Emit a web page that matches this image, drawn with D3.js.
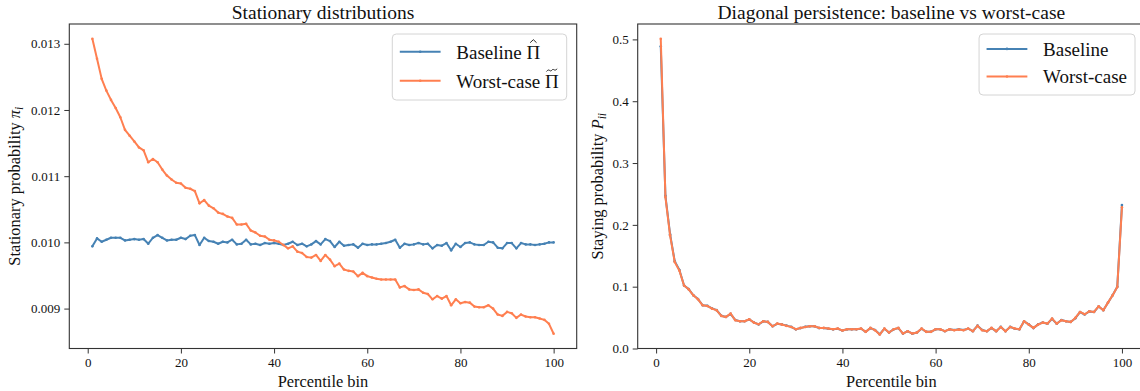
<!DOCTYPE html>
<html>
<head>
<meta charset="utf-8">
<script src="https://cdn.jsdelivr.net/npm/d3@7"></script>
<style>
  body { margin: 0; background: #fff; }
  text { font-family: "Liberation Serif", "Times New Roman", serif; fill: #111; }
</style>
</head>
<body>
<script>
// percentile bins 1..100
var bins = d3.range(1, 101);

var baselinePi = [
  0.00994, 0.01006, 0.01001, 0.01004, 0.01007, 0.01007, 0.01007, 0.01003, 0.01004, 0.01005,
  0.01004, 0.01005, 0.00998, 0.01007, 0.01011, 0.01007, 0.01003, 0.01004, 0.01004, 0.01007,
  0.01005, 0.01010, 0.01011, 0.00996, 0.01007, 0.01002, 0.01001, 0.00998, 0.01001, 0.01000,
  0.01004, 0.00997, 0.00998, 0.01004, 0.00997, 0.00998, 0.00996, 0.00999, 0.00998, 0.00999,
  0.00998, 0.00996, 0.00998, 0.01001, 0.00996, 0.00998, 0.00994, 0.00997, 0.01002, 0.00997,
  0.01005, 0.01002, 0.00993, 0.01001, 0.00995, 0.00996, 0.00997, 0.00992, 0.00998, 0.00996,
  0.00997, 0.00997, 0.00998, 0.00999, 0.01001, 0.01004, 0.00992, 0.00998, 0.00996, 0.00997,
  0.00999, 0.00997, 0.00998, 0.00991, 0.00996, 0.00995, 0.00999, 0.00988, 0.00998, 0.00993,
  0.00999, 0.01000, 0.00997, 0.00996, 0.00996, 0.01001, 0.01000, 0.00992, 0.00991, 0.00999,
  0.00999, 0.00991, 0.00999, 0.00997, 0.00997, 0.00996, 0.00997, 0.00998, 0.01000, 0.01000
];

var worstPi = [
  0.013076, 0.012773, 0.01247, 0.012293, 0.012152, 0.01203, 0.01189, 0.0117, 0.011611, 0.011525,
  0.011434, 0.01139, 0.01121, 0.01126, 0.01121, 0.0111, 0.01101, 0.01095, 0.0109, 0.01089,
  0.010825, 0.01081, 0.010775, 0.01059, 0.01064, 0.010555, 0.010515, 0.01045, 0.01043, 0.01039,
  0.01037, 0.01027, 0.01027, 0.01028, 0.01018, 0.01015, 0.0101, 0.01009, 0.01004, 0.01003,
  0.01001, 0.00996, 0.00991, 0.00994, 0.00986, 0.00984, 0.00978, 0.00977, 0.00981, 0.00972,
  0.00981, 0.00974, 0.00964, 0.00968, 0.00959, 0.00957, 0.00956, 0.00949, 0.00954, 0.00949,
  0.00947, 0.00945, 0.00944, 0.00944, 0.00944, 0.00944, 0.00932, 0.00934, 0.00929, 0.00928,
  0.00929, 0.00924, 0.00922, 0.00914, 0.00919, 0.00915, 0.00919, 0.00905, 0.00914, 0.00908,
  0.0091, 0.00909, 0.00903, 0.00902, 0.00902, 0.00905, 0.009, 0.00891, 0.00889, 0.00895,
  0.00893, 0.00886, 0.00891, 0.00888, 0.00887, 0.00887, 0.00885, 0.00883, 0.00877, 0.00862
];

var baselineStay = [
  0.489, 0.247, 0.185, 0.141, 0.127, 0.102, 0.096, 0.086, 0.080, 0.070,
  0.069, 0.065, 0.062, 0.053, 0.051, 0.056, 0.046, 0.044, 0.044, 0.047,
  0.042, 0.039, 0.044, 0.043, 0.036, 0.040, 0.039, 0.037, 0.035, 0.031,
  0.033, 0.035, 0.036, 0.036, 0.033, 0.033, 0.032, 0.031, 0.032, 0.029,
  0.031, 0.031, 0.031, 0.032, 0.027, 0.033, 0.030, 0.023, 0.032, 0.026,
  0.031, 0.033, 0.024, 0.028, 0.024, 0.026, 0.032, 0.027, 0.027, 0.031,
  0.031, 0.028, 0.031, 0.030, 0.031, 0.030, 0.032, 0.028, 0.037, 0.030,
  0.028, 0.033, 0.028, 0.035, 0.028, 0.035, 0.032, 0.031, 0.044, 0.039,
  0.033, 0.039, 0.042, 0.040, 0.048, 0.040, 0.046, 0.044, 0.043, 0.049,
  0.059, 0.055, 0.060, 0.059, 0.068, 0.062, 0.074, 0.086, 0.100, 0.232
];

var worstStay = [
  0.501, 0.245, 0.183, 0.140, 0.126, 0.102, 0.0957, 0.086, 0.0796, 0.0699,
  0.0688, 0.0645, 0.0618, 0.0527, 0.0511, 0.0565, 0.0457, 0.0441, 0.0441, 0.0473,
  0.0419, 0.0392, 0.0441, 0.043, 0.036, 0.0403, 0.0387, 0.0366, 0.0349, 0.0312,
  0.0333, 0.0349, 0.036, 0.036, 0.0333, 0.0333, 0.0323, 0.0312, 0.0323, 0.029,
  0.0312, 0.0312, 0.0312, 0.0323, 0.0269, 0.0333, 0.0296, 0.0226, 0.0323, 0.0258,
  0.0312, 0.0333, 0.0242, 0.028, 0.0242, 0.0258, 0.0323, 0.0269, 0.0269, 0.0312,
  0.0312, 0.028, 0.0312, 0.0296, 0.0306, 0.0296, 0.0323, 0.028, 0.0366, 0.0296,
  0.028, 0.0333, 0.028, 0.0349, 0.028, 0.0349, 0.0323, 0.0312, 0.0441, 0.0387,
  0.0333, 0.0387, 0.0419, 0.0403, 0.0484, 0.0403, 0.0457, 0.0441, 0.043, 0.0495,
  0.0591, 0.0554, 0.0602, 0.0591, 0.0683, 0.0618, 0.0742, 0.086, 0.0995, 0.2285
];

var xTicks = [0, 20, 40, 60, 80, 100],
    piTicks = [0.009, 0.010, 0.011, 0.012, 0.013],
    stayTicks = [0.0, 0.1, 0.2, 0.3, 0.4, 0.5];

var blue = "#4682b4", orange = "#ff7f50";
var serif = "'Liberation Serif', 'Times New Roman', serif";

var W = 1140, H = 391;

var svg = d3.select("body").append("svg")
    .attr("width", W)
    .attr("height", H);

// matplotlib style autoscale margins
function padded(lo, hi) {
  var m = (hi - lo) * 0.05;
  return [lo - m, hi + m];
}

var xDom = padded(1, 100);

var panels = [
  {
    box: [69.3, 576.7, 24, 348.5],
    title: "Stationary distributions",
    series: [
      { values: baselinePi, color: blue, label: "Baseline ", math: "Π", accent: "hat" },
      { values: worstPi, color: orange, label: "Worst-case ", math: "Π", accent: "tilde" }
    ],
    yDom: padded(d3.min(baselinePi.concat(worstPi)), d3.max(baselinePi.concat(worstPi))),
    yTicks: piTicks, yFmt: d3.format(".3f"),
    yLabel: ["Stationary probability ", "π", "i"], yLabelX: 20,
    legend: { firstBase: 24.5, rowH: 29, height: 66 }
  },
  {
    box: [637.7, 1145, 24, 348.5],
    title: "Diagonal persistence: baseline vs worst-case",
    series: [
      { values: baselineStay, color: blue, label: "Baseline" },
      { values: worstStay, color: orange, label: "Worst-case" }
    ],
    yDom: [0, padded(d3.min(worstStay), d3.max(worstStay))[1]],
    yTicks: stayTicks, yFmt: d3.format(".1f"),
    yLabel: ["Staying probability ", "P", "ii"], yLabelX: 603,
    legend: { firstBase: 21.7, rowH: 27.6, height: 61 }
  }
];

panels.forEach(function(p) {
  var b = p.box;
  var x = d3.scaleLinear().domain(xDom).range([b[0], b[1]]);
  var y = d3.scaleLinear().domain(p.yDom).range([b[3], b[2]]);

  var g = svg.append("g");

  // lines + small point markers
  var line = d3.line()
      .x(function(d, i) { return x(bins[i]); })
      .y(function(d) { return y(d); });

  p.series.forEach(function(s) {
    g.append("path")
        .attr("d", line(s.values))
        .attr("fill", "none")
        .attr("stroke", s.color)
        .attr("stroke-width", 2)
        .attr("stroke-linejoin", "round");
    g.selectAll(null)
        .data(s.values)
      .enter().append("circle")
        .attr("cx", function(d, i) { return x(bins[i]); })
        .attr("cy", function(d) { return y(d); })
        .attr("r", 1.3)
        .attr("fill", s.color);
  });

  // spines
  g.append("rect")
      .attr("x", b[0]).attr("y", b[2])
      .attr("width", b[1] - b[0]).attr("height", b[3] - b[2])
      .attr("fill", "none")
      .attr("stroke", "#333")
      .attr("stroke-width", 1.1);

  // axes
  var xa = g.append("g")
      .attr("transform", "translate(0," + b[3] + ")")
      .call(d3.axisBottom(x).tickValues(xTicks).tickSize(5).tickPadding(4).tickFormat(d3.format("d")));
  var ya = g.append("g")
      .attr("transform", "translate(" + b[0] + ",0)")
      .call(d3.axisLeft(y).tickValues(p.yTicks).tickSize(5).tickPadding(4).tickFormat(p.yFmt));
  [xa, ya].forEach(function(a) {
    a.attr("font-family", serif).attr("font-size", 13);
    a.select(".domain").remove();
    a.selectAll("line").attr("stroke", "#333").attr("stroke-width", 1);
    a.selectAll("text")
        .attr("font-family", serif)
        .attr("font-size", 13)
        .attr("fill", "#111");
  });

  // title
  g.append("text")
      .attr("x", (b[0] + b[1]) / 2)
      .attr("y", 18.5)
      .attr("text-anchor", "middle")
      .style("font-size", "19.5px")
      .text(p.title);

  // x label
  g.append("text")
      .attr("x", (b[0] + b[1]) / 2)
      .attr("y", 386.5)
      .attr("text-anchor", "middle")
      .style("font-size", "16.4px")
      .text("Percentile bin");

  // y label with italic symbol + subscript
  var yl = g.append("text")
      .attr("transform", "translate(" + p.yLabelX + "," + ((b[2] + b[3]) / 2) + ") rotate(-90)")
      .attr("text-anchor", "middle")
      .style("font-size", "16.4px");
  yl.append("tspan").text(p.yLabel[0]);
  yl.append("tspan").style("font-style", "italic").text(p.yLabel[1]);
  yl.append("tspan").style("font-style", "italic").style("font-size", "11.5px")
      .attr("dy", 3).text(p.yLabel[2]);

  // legend
  var L = p.legend;
  var lg = g.append("g");
  var frame = lg.append("rect");
  var maxW = 0;
  p.series.forEach(function(s, i) {
    var t = lg.append("text")
        .attr("y", b[2] + 10 + L.firstBase + i * L.rowH)
        .style("font-size", "19px")
        .text(s.label + (s.math || ""));
    maxW = Math.max(maxW, t.node().getComputedTextLength());
    s._t = t;
  });
  var bw = 64 + maxW + 8;
  var bx = b[1] - 10 - bw, by = b[2] + 10;
  frame.attr("x", bx).attr("y", by)
      .attr("width", bw).attr("height", L.height)
      .attr("rx", 4)
      .attr("fill", "#fff").attr("fill-opacity", 0.8)
      .attr("stroke", "#d4d4d4").attr("stroke-width", 1);
  p.series.forEach(function(s, i) {
    var base = b[2] + 10 + L.firstBase + i * L.rowH;
    var ly = base - 6.8;
    s._t.attr("x", bx + 64);
    lg.append("line")
        .attr("x1", bx + 7.5).attr("x2", bx + 48.3)
        .attr("y1", ly).attr("y2", ly)
        .attr("stroke", s.color).attr("stroke-width", 2);
    lg.append("circle")
        .attr("cx", bx + 27.9).attr("cy", ly).attr("r", 1.3)
        .attr("fill", s.color);

    // accent over the Π
    if (s.math) {
      var n = s._t.node(), k = s.label.length;
      var ext = n.getExtentOfChar(k);
      var x0 = ext.x + 1.5, x1 = ext.x + ext.width - 1.5, xm = (x0 + x1) / 2;
      var top = base - 13.8;
      var acc;
      if (s.accent === "hat") {
        acc = "M" + (xm - 3.2) + "," + (top - 2) + "L" + xm + "," + (top - 5) + "L" + (xm + 3.2) + "," + (top - 2);
      } else {
        acc = "M" + x0 + "," + (top - 2.2) +
          "C" + (x0 + 3) + "," + (top - 6) + " " + (xm - 2) + "," + (top - 1) + " " + xm + "," + (top - 3.5) +
          "C" + (xm + 2) + "," + (top - 6) + " " + (x1 - 3) + "," + (top - 1.5) + " " + x1 + "," + (top - 5);
      }
      lg.append("path")
          .attr("d", acc)
          .attr("fill", "none")
          .attr("stroke", "#111")
          .attr("stroke-width", 0.9);
    }
  });
});
</script>
</body>
</html>
